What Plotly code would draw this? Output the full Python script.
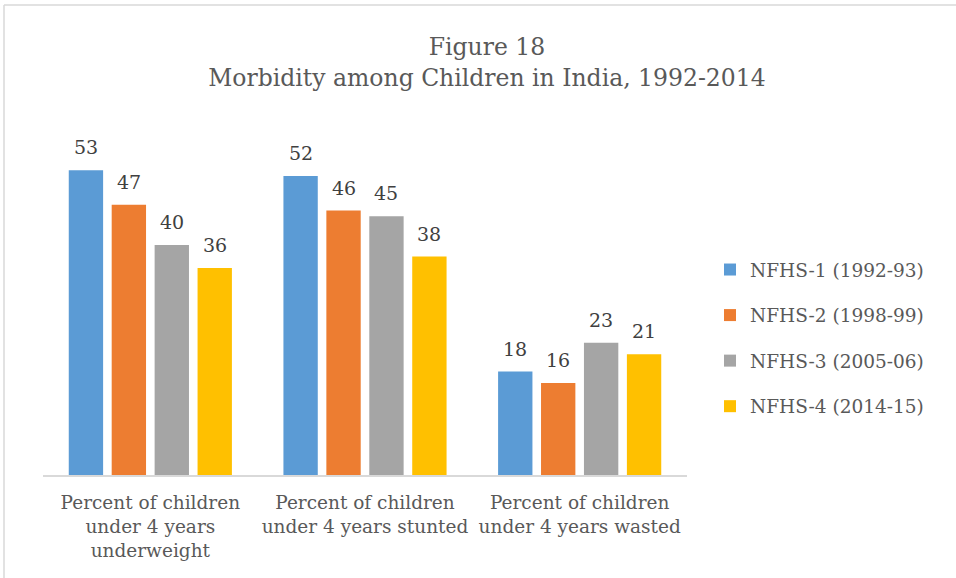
import plotly.graph_objects as go

categories = [
    "Percent of children<br>under 4 years<br>underweight",
    "Percent of children<br>under 4 years stunted",
    "Percent of children<br>under 4 years wasted",
]
series_names = ["NFHS-1 (1992-93)", "NFHS-2 (1998-99)", "NFHS-3 (2005-06)", "NFHS-4 (2014-15)"]
series_values = [
    [53, 52, 18],
    [47, 46, 16],
    [40, 45, 23],
    [36, 38, 21],
]
colors = ["#5B9BD5", "#ED7D31", "#A5A5A5", "#FFC000"]

W, H = 956, 578
ML, MR, MT, MB = 43, 269, 130, 103
FONT = "DejaVu Serif"
BARGAP = 0.2
BARGROUPGAP = 0.2

fig = go.Figure()
for i, (name, vals) in enumerate(zip(series_names, series_values)):
    fig.add_trace(go.Bar(
        x=categories, y=vals, name=name,
        marker=dict(color=colors[i], line=dict(width=0)),
        legendgroup=f"g{i}",
    ))

pw = W - ML - MR
ph = H - MT - MB
def px_x(x):
    return (x - ML) / pw
def px_y(y):
    return (H - MB - y) / ph

# data labels above each bar, positioned through the category axis
n_series = len(series_names)
pitch = pw / len(categories) * (1 - BARGAP) / n_series
annotations = []
for i, vals in enumerate(series_values):
    for cat, v in zip(categories, vals):
        annotations.append(dict(
            x=cat, y=v, xref="x", yref="y", text=str(v), showarrow=False,
            xshift=(i - (n_series - 1) / 2) * pitch, yanchor="bottom", yshift=10,
            font=dict(family=FONT, size=19, color="#404040"),
        ))

fig.update_layout(
    width=W, height=H,
    margin=dict(l=ML, r=MR, t=MT, b=MB),
    paper_bgcolor="white", plot_bgcolor="white",
    barmode="group", bargap=BARGAP, bargroupgap=BARGROUPGAP,
    font=dict(family=FONT, color="#595959"),
    title=dict(
        text="Figure 18<br>Morbidity among Children in India, 1992-2014",
        x=487 / W, xanchor="center", y=1 - 55 / H, yanchor="middle",
        font=dict(family=FONT, size=23.5, color="#595959"),
    ),
    legend=dict(
        x=px_x(710), y=px_y(251), xanchor="left", yanchor="top",
        font=dict(family=FONT, size=18.5, color="#595959"),
        tracegroupgap=18.5, itemwidth=30,
    ),
    xaxis=dict(
        showline=True, linecolor="#D9D9D9", linewidth=1.5,
        ticks="", ticklabelstandoff=10,
        tickfont=dict(family=FONT, size=18.5, color="#595959"),
    ),
    yaxis=dict(range=[0, 60], visible=False),
    annotations=annotations,
    shapes=[
        dict(type="line", xref="paper", yref="paper",
             x0=px_x(4), x1=px_x(956), y0=px_y(5), y1=px_y(5),
             line=dict(color="#D9D9D9", width=1.5)),
        dict(type="line", xref="paper", yref="paper",
             x0=px_x(4), x1=px_x(4), y0=px_y(5), y1=px_y(578),
             line=dict(color="#D9D9D9", width=1.5)),
    ],
)

fig.write_html("out.html")
